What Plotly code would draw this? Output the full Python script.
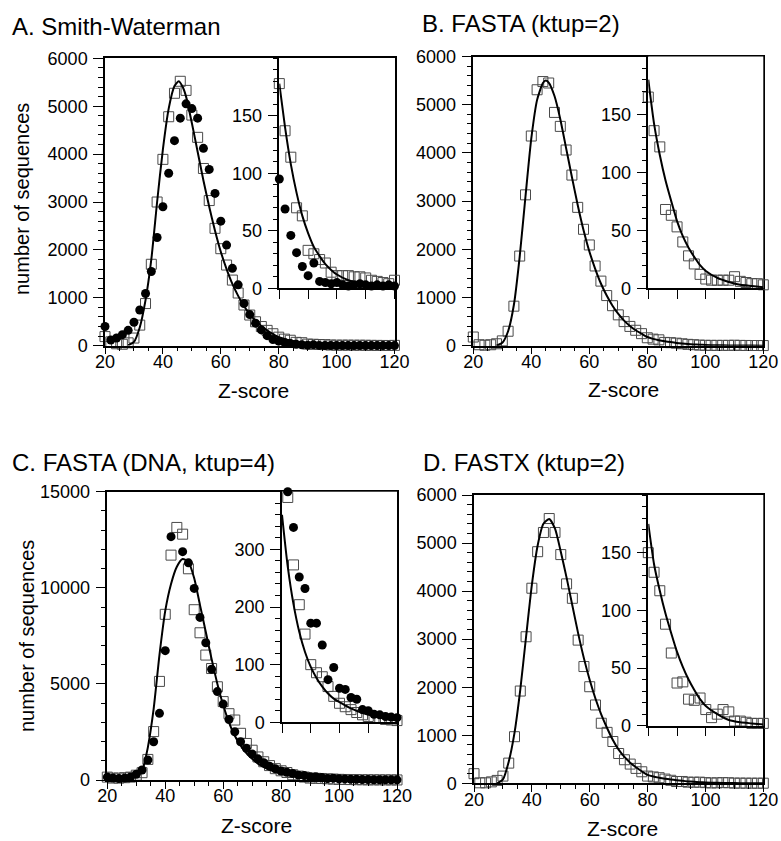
import plotly.graph_objects as go

W, H = 781, 841

# Z-score bins, every 2 units
zBins = [20, 22, 24, 26, 28, 30, 32, 34, 36, 38, 40, 42, 44, 46, 48, 50, 52, 54, 56, 58,
         60, 62, 64, 66, 68, 70, 72, 74, 76, 78, 80, 82, 84, 86, 88, 90, 92, 94, 96, 98,
         100, 102, 104, 106, 108, 110, 112, 114, 116, 118, 120]

# A. Smith-Waterman
squaresA = [190, 80, 40, 30, 60, 160, 430, 880, 1700, 3000, 3890, 4780, 5270, 5520, 5330, 4815, 4350, 3700, 3030, 2450,
            2025, 1684, 1370, 1100, 850, 640, 500, 400, 320, 250, 178, 137, 114, 70, 63, 33, 30, 25, 22, 14,
            11, 11, 11, 10, 10, 9, 7, 6, 5, 4, 7]
circlesA = [400, 120, 160, 230, 320, 490, 745, 1090, 1550, 2260, 2900, 3600, 4280, 4750, 5050, 4950, 4750, 4120, 3680, 3180,
            2600, 2100, 1615, 1270, 880, 650, 470, 330, 210, 130, 95, 69, 46, 31, 19, 11, 22, 6, 5, 4,
            5, 3, 2, 3, 4, 3, 2, 3, 2, 3, 2]
curveXA = [28, 30, 32, 34, 36, 38, 40, 42, 44, 45.5, 47, 48, 50, 52, 54, 56, 58, 60, 62, 64, 66, 68, 70, 72, 74, 76, 78,
           80, 82, 84, 86, 88, 90, 92, 94, 96, 98, 100, 104, 108, 112, 116, 120]
curveYA = [10, 80, 380, 950, 1800, 3000, 4100, 4950, 5420, 5520, 5380, 5200, 4650, 4050, 3450, 2900, 2400, 1960, 1600, 1290, 1040, 830, 660, 520, 410, 320, 245,
           178, 140, 108, 83, 63, 48, 36, 28, 21, 16, 12, 7, 4, 2.5, 1.5, 1]

# B. FASTA (ktup=2)
squaresB = [180, 20, 10, 20, 40, 100, 300, 820, 1860, 3130, 4350, 5310, 5480, 5450, 4840, 4550, 4060, 3540, 2870, 2415,
            2090, 1654, 1340, 1040, 830, 640, 500, 400, 320, 250, 165, 136, 122, 68, 63, 53, 40, 28, 21, 12,
            8, 7, 7, 7, 7, 10, 6, 5, 4, 4, 3]
curveXB = [28, 30, 32, 34, 36, 38, 40, 42, 44, 45, 46, 48, 50, 52, 54, 56, 58, 60, 62, 64, 66, 68, 70, 72, 74, 76, 78,
           80, 82, 84, 86, 88, 90, 92, 94, 96, 98, 100, 104, 108, 112, 116, 120]
curveYB = [0, 60, 300, 850, 1850, 3100, 4300, 5100, 5450, 5500, 5460, 5180, 4700, 4100, 3500, 2920, 2400, 1960, 1600, 1290, 1040, 830, 660, 520, 410, 320, 250,
           180, 142, 115, 93, 75, 58, 45, 35, 27, 20, 15, 9, 5.5, 3, 2, 1]

# C. FASTA (DNA, ktup=4)
squaresC = [150, 100, 100, 120, 150, 250, 380, 1070, 2520, 5130, 8620, 11700, 13140, 12790, 10990, 8860, 7660, 6500, 5800, 4850,
            4080, 3450, 3120, 2430, 1900, 1550, 1200, 950, 750, 590, 480, 390, 273, 204, 153, 100, 86, 79, 62, 45,
            33, 27, 22, 17, 13, 10, 8, 7, 5, 4, 3]
circlesC = [150, 100, 80, 100, 150, 300, 520, 1040, 1990, 3470, 6730, 12660, 15170, 11880, 11300, 9970, 8460, 7140, 5760, 4600,
            3950, 3150, 2510, 1990, 1650, 1350, 1100, 900, 720, 580, 470, 400, 338, 252, 232, 172, 172, 134, 74, 95,
            59, 57, 43, 40, 22, 20, 14, 13, 10, 9, 8]
curveXC = [32, 34, 36, 38, 40, 42, 44, 46, 48, 50, 52, 54, 56, 58, 60, 62, 64, 66, 68, 70, 72, 74, 76, 78,
           80, 82, 84, 86, 88, 90, 92, 94, 96, 98, 100, 104, 108, 112, 116, 120]
curveYC = [350, 1700, 3700, 6500, 8800, 10200, 11100, 11500, 11350, 10500, 9100, 7700, 6300, 5000, 3900, 3000, 2300, 1800, 1400, 1100, 850, 670, 540, 440,
           360, 270, 205, 157, 122, 96, 77, 62, 50, 41, 35, 24, 16, 11, 7, 5]

# D. FASTX (ktup=2)
squaresD = [200, 10, 10, 30, 60, 150, 420, 970, 1920, 3050, 4060, 4820, 5220, 5510, 5220, 4760, 4150, 3850, 2980, 2430,
            2010, 1630, 1250, 1060, 870, 620, 490, 400, 310, 240, 150, 133, 117, 88, 63, 37, 38, 23, 22, 24,
            14, 7, 10, 14, 12, 4, 4, 3, 2, 2, 2]
curveXD = [28, 30, 32, 34, 36, 38, 40, 42, 44, 46, 48, 50, 52, 54, 56, 58, 60, 62, 64, 66, 68, 70, 72, 74, 76, 78,
           80, 82, 84, 86, 88, 90, 92, 94, 96, 98, 100, 104, 108, 112, 116, 120]
curveYD = [0, 80, 450, 1050, 1950, 3050, 4130, 4950, 5400, 5500, 5300, 4820, 4280, 3700, 3120, 2600, 2150, 1760, 1430, 1150, 900, 700, 550, 430, 335, 250,
           175, 140, 117, 97, 80, 64, 51, 40, 31, 23, 17, 10, 5, 3, 2, 1]

# labelled ticks on the insets
insetLabels = [0, 50, 100, 150]
insetLabelsC = [0, 100, 200, 300]

FONT = "Liberation Sans, Arial, Helvetica, sans-serif"
sqMarker = dict(symbol="square-open", size=10, color="#4a4a4a", line=dict(width=1))
dotMarker = dict(symbol="circle", size=9, color="black")
curveLine = dict(color="black", width=2, shape="spline", smoothing=0.6)


def axName(n):
    return "" if n == 1 else str(n)


def keepInset(xs, ys, top):
    # only the tail (Z >= 80) that fits under the inset's top
    pts = [(x, y) for x, y in zip(xs, ys) if x >= 80 and y <= top]
    return [p[0] for p in pts], [p[1] for p in pts]


def addPanel(fig, k, squares, circles, cx, cy, box, inset, yMax, yDtick, yMinor, inMax, inLabels, inMinor):
    m, s = 2 * k + 1, 2 * k + 2
    xm, ym, xs, ys = "x" + axName(m), "y" + axName(m), "x" + axName(s), "y" + axName(s)

    # main plot
    fig.add_scatter(x=zBins, y=squares, xaxis=xm, yaxis=ym, mode="markers", marker=sqMarker, cliponaxis=False)
    if circles is not None:
        fig.add_scatter(x=zBins, y=circles, xaxis=xm, yaxis=ym, mode="markers", marker=dotMarker, cliponaxis=False)
    fig.add_scatter(x=cx, y=cy, xaxis=xm, yaxis=ym, mode="lines", line=curveLine)

    # inset: tail blown up
    ix, iy = keepInset(zBins, squares, inMax)
    fig.add_scatter(x=ix, y=iy, xaxis=xs, yaxis=ys, mode="markers", marker=sqMarker, cliponaxis=False)
    if circles is not None:
        ix, iy = keepInset(zBins, circles, inMax)
        fig.add_scatter(x=ix, y=iy, xaxis=xs, yaxis=ys, mode="markers", marker=dotMarker, cliponaxis=False)
    ix, iy = keepInset(cx, cy, inMax)
    fig.add_scatter(x=ix, y=iy, xaxis=xs, yaxis=ys, mode="lines", line=curveLine)

    common = dict(showgrid=False, zeroline=False, showline=True, linecolor="black", linewidth=1.5,
                  ticks="outside", tickcolor="black", tickwidth=1, automargin=False,
                  tickfont=dict(family=FONT, size=18, color="black"))
    fig.layout["xaxis" + axName(m)] = dict(
        common, domain=[box[0] / W, box[2] / W], range=[20, 120], anchor=ym, mirror=True,
        tick0=20, dtick=20, ticklen=7, ticklabelstandoff=-8,
        minor=dict(tick0=20, dtick=5, ticklen=4, ticks="outside", tickcolor="black"))
    fig.layout["yaxis" + axName(m)] = dict(
        common, domain=[1 - box[3] / H, 1 - box[1] / H], range=[0, yMax], anchor=xm, mirror=True,
        tick0=0, dtick=yDtick, ticklen=10, tickformat="d", ticklabelstandoff=2,
        minor=dict(tick0=0, dtick=yMinor, ticklen=5, ticks="outside", tickcolor="black"))
    fig.layout["xaxis" + axName(s)] = dict(
        common, domain=[inset[0] / W, inset[2] / W], range=[80, 120], anchor=ys,
        tick0=80, dtick=10, ticklen=9, showticklabels=False)
    fig.layout["yaxis" + axName(s)] = dict(
        common, domain=[1 - inset[3] / H, 1 - inset[1] / H], range=[0, inMax], anchor=xs,
        tickmode="array", tickvals=inLabels, ticklen=10, tickformat="d", ticklabelstandoff=2,
        minor=dict(tick0=0, dtick=inMinor, ticklen=5, ticks="outside", tickcolor="black"))


fig = go.Figure()

# pixel boxes: (left, top, right, bottom)
addPanel(fig, 0, squaresA, circlesA, curveXA, curveYA, (105, 58.3, 394.5, 345.7), (279.3, 58.3, 394.5, 288.3),
         6000, 1000, 200, 200, insetLabels, 10)
addPanel(fig, 1, squaresB, None, curveXB, curveYB, (473.3, 56.5, 763.3, 345.7), (648.3, 56.5, 763.3, 288.3),
         6000, 1000, 200, 200, insetLabels, 10)
addPanel(fig, 2, squaresC, circlesC, curveXC, curveYC, (107.3, 491.7, 397, 780), (282, 491.7, 397, 722.3),
         15000, 5000, 1000, 400, insetLabelsC, 20)
addPanel(fig, 3, squaresD, None, curveXD, curveYD, (474, 495, 763.3, 783.3), (648.3, 495, 763.3, 725.7),
         6000, 1000, 200, 200, insetLabels, 10)

titles = [
    ("A. Smith-Waterman", 10, 27),
    ("B. FASTA (ktup=2)", 420, 24),
    ("C. FASTA (DNA, ktup=4)", 10, 462),
    ("D. FASTX (ktup=2)", 421, 463),
]
for text, x, y in titles:
    fig.add_annotation(text=text, x=x / W, y=1 - y / H, xref="paper", yref="paper", xanchor="left", yanchor="middle",
                       showarrow=False, font=dict(family=FONT, size=24, color="black"))

for x, y in [(253, 390), (623, 389), (256, 825), (622, 828)]:
    fig.add_annotation(text="Z-score", x=x / W, y=1 - y / H, xref="paper", yref="paper", xanchor="center", yanchor="middle",
                       showarrow=False, font=dict(family=FONT, size=21, color="black"))
for x, y in [(22, 199), (27, 636)]:
    fig.add_annotation(text="number of sequences", x=x / W, y=1 - y / H, xref="paper", yref="paper", textangle=-90,
                       xanchor="center", yanchor="middle", showarrow=False, font=dict(family=FONT, size=20, color="black"))

fig.update_layout(width=W, height=H, margin=dict(l=0, r=0, t=0, b=0, pad=0, autoexpand=False), showlegend=False,
                  paper_bgcolor="white", plot_bgcolor="white")
# the page's default body margin would push the figure off by 8px
fig.write_html("out.html", config={"displayModeBar": False},
               post_script="document.body.style.margin = '0';")
